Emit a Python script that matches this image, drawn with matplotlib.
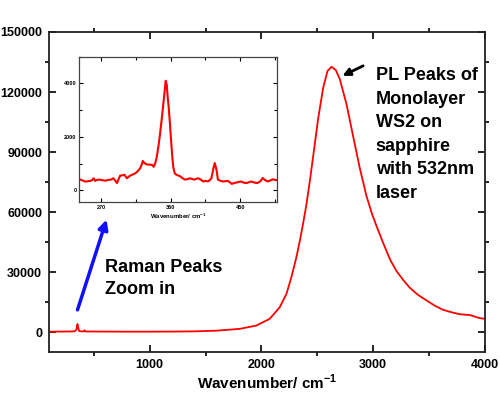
import matplotlib
matplotlib.use("Agg")
import matplotlib.pyplot as plt

plt.rcParams['font.family'] = ['Liberation Sans', 'DejaVu Sans']
plt.rcParams['font.weight'] = 'bold'
plt.rcParams['mathtext.fontset'] = 'custom'
plt.rcParams['mathtext.rm'] = 'Liberation Sans:bold'
plt.rcParams['mathtext.bf'] = 'Liberation Sans:bold'

# full spectrum (wavenumber, counts)
main_wn = [100, 200, 300, 330, 345, 350, 355, 360, 370, 400, 412, 418, 424, 450,
           600, 800, 1000, 1200, 1400, 1600, 1806, 1955, 2074, 2164, 2224, 2268,
           2313, 2343, 2372, 2403, 2432, 2462, 2507, 2552, 2591, 2627, 2665, 2701,
           2761, 2820, 2880, 2940, 2990, 3033, 3090, 3152, 3209, 3270, 3328, 3400,
           3477, 3550, 3626, 3700, 3775, 3820, 3865, 3900, 3925, 3960, 4000]
main_int = [300, 350, 400, 500, 1300, 2800, 4100, 2500, 600, 400, 450, 1000, 420, 380,
            350, 300, 300, 350, 450, 800, 1700, 3350, 6700, 12500, 19200, 27500,
            37500, 45500, 54000, 64000, 75000, 87500, 106500, 122000, 130500, 132600, 131000, 126500,
            114000, 98000, 82000, 68000, 59000, 52600, 44500, 36200, 30500, 26000, 22200, 18700,
            15900, 13300, 11200, 10000, 9000, 8800, 8600, 8000, 7500, 7000, 6700]

# Raman region (inset)
raman_wn = [242.5, 246, 250, 253, 256, 258.5, 260.5, 262.6, 265, 268, 271, 275.6, 280,
            283, 286, 288, 290.6, 292.5, 294.8, 297.5, 300.4, 303.4, 305.5, 307.7, 311,
            314, 317, 320.5, 322.5, 324, 326, 329, 333, 336.3, 338, 340, 342, 344, 346,
            349, 351.8, 353.6, 355, 356, 357.5, 359, 360.5, 362, 363.5, 365.5, 369, 372,
            375, 378.4, 382, 385, 388, 391, 393, 395.5, 399, 402, 405, 408, 410.5,
            412.7, 415.3, 417, 419.3, 421, 424, 427.6, 431, 434, 436.5, 439, 442,
            444.8, 448, 451, 454, 457.7, 461, 464, 468, 472, 476, 479, 482, 485.6,
            489, 492, 496.5]
raman_int = [414, 370, 325, 340, 350, 380, 450, 350, 390, 400, 380, 360, 390,
             400, 450, 380, 270, 400, 550, 560, 580, 450, 500, 550, 590,
             630, 700, 820, 950, 1100, 1020, 970, 960, 950, 880, 1000, 1240, 1600, 2040,
             2800, 3580, 4100, 3950, 3550, 3100, 2540, 1900, 1290, 850, 620, 560, 530,
             460, 400, 420, 450, 420, 400, 430, 450, 400, 330, 350, 330, 380,
             450, 830, 1020, 760, 400, 360, 330, 340, 350, 300, 240, 270,
             290, 310, 330, 290, 270, 300, 330, 290, 270, 340, 460, 380, 330,
             370, 410, 380]

fig = plt.figure(figsize=(5, 3.93), dpi=100)
ax = fig.add_axes([0.098, 0.1036, 0.872, 0.815])
ax.plot(main_wn, main_int, color='#ff0000', lw=1.3)
ax.set_xlim(100, 4000)
ax.set_ylim(-10000, 150000)
ax.set_xticks([1000, 2000, 3000, 4000])
ax.set_xticks([500, 1500, 2500, 3500], minor=True)
ax.set_yticks([0, 30000, 60000, 90000, 120000, 150000])
ax.set_yticks([15000, 45000, 75000, 105000, 135000], minor=True)
ax.tick_params(which='major', direction='in', length=5, width=1.2, top=True, right=True,
               labelsize=9, pad=5)
ax.tick_params(which='minor', direction='out', length=3, width=1.2, top=True, right=True)
for s in ax.spines.values():
    s.set_linewidth(1.3)
    s.set_color('#222222')
for lab in ax.get_xticklabels() + ax.get_yticklabels():
    lab.set_fontweight('bold')
ax.set_xlabel('Wavenumber/ cm$^{-1}$', fontsize=11, fontweight='bold', labelpad=1)

ax.text(597, 36500, 'Raman Peaks\nZoom in', fontsize=13, fontweight='bold',
        va='top', ha='left', linespacing=1.4)
ax.text(3023, 132500, 'PL Peaks of\nMonolayer\nWS2 on\nsapphire\nwith 532nm\nlaser',
        fontsize=13, fontweight='bold', va='top', ha='left', linespacing=1.5)
ax.annotate('', xy=(615, 56300), xytext=(355, 11200),
            arrowprops=dict(arrowstyle='-|>', color='#1010ff', lw=2.5, mutation_scale=14,
                            shrinkA=0, shrinkB=0))
ax.annotate('', xy=(2725, 128100), xytext=(2910, 133100),
            arrowprops=dict(arrowstyle='-|>', color='black', lw=2, mutation_scale=11,
                            shrinkA=0, shrinkB=0))

ins = fig.add_axes([0.1586, 0.4852, 0.3948, 0.3705])
ins.plot(raman_wn, raman_int, color='#ff0000', lw=1.5)
ins.set_xlim(242, 497)
ins.set_ylim(-450, 5000)
ins.set_xticks([270, 360, 450])
ins.set_xticks([315, 405, 495], minor=True)
ins.set_yticks([0, 2000, 4000])
ins.set_yticks([1000, 3000, 5000], minor=True)
ins.tick_params(which='both', direction='in', top=True, right=True, width=0.8,
                labelsize=4, pad=2)
ins.tick_params(which='major', length=3)
ins.tick_params(which='minor', length=2)
for s in ins.spines.values():
    s.set_linewidth(0.9)
    s.set_color('#444444')
for lab in ins.get_xticklabels() + ins.get_yticklabels():
    lab.set_fontweight('bold')
ins.set_xlabel('Wavenumber/ cm$^{-1}$', fontsize=4.3, fontweight='bold', labelpad=1.5)

fig.savefig('out.png', dpi=100)
